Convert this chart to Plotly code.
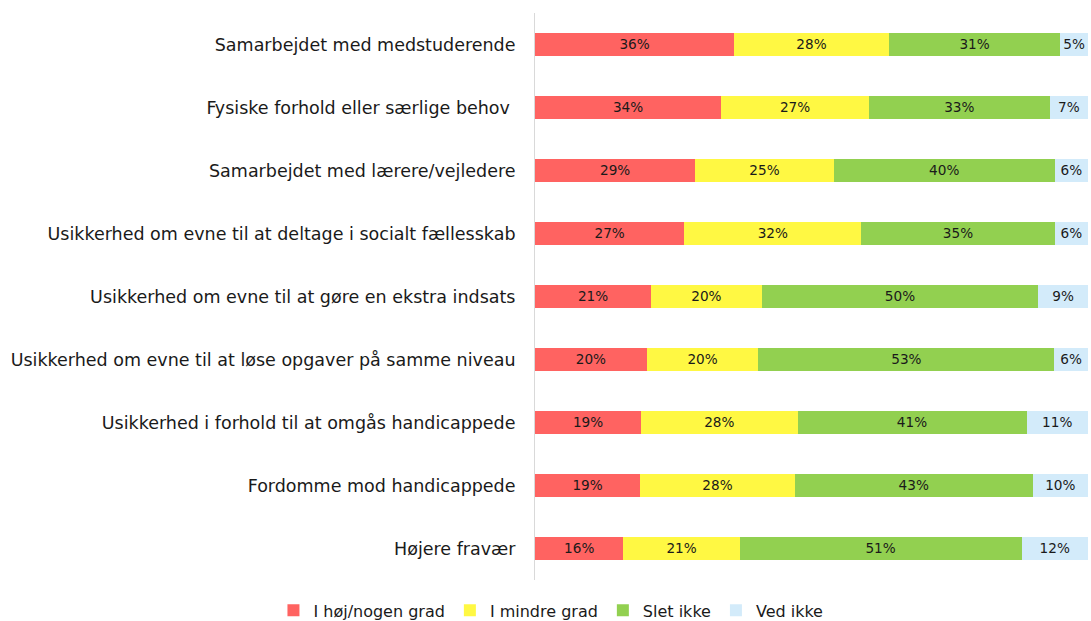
import plotly.graph_objects as go

categories = [
    "Samarbejdet med medstuderende",
    "Fysiske forhold eller særlige behov ",
    "Samarbejdet med lærere/vejledere",
    "Usikkerhed om evne til at deltage i socialt fællesskab",
    "Usikkerhed om evne til at gøre en ekstra indsats",
    "Usikkerhed om evne til at løse opgaver på samme niveau",
    "Usikkerhed i forhold til at omgås handicappede",
    "Fordomme mod handicappede",
    "Højere fravær",
]
hoj = [36, 34, 29, 27, 21, 20, 19, 19, 16]
mindre = [28, 27, 25, 32, 20, 20, 28, 28, 21]
slet = [31, 33, 40, 35, 50, 53, 41, 43, 51]
ved = [5, 7, 6, 6, 9, 6, 11, 10, 12]

series = [
    ("I høj/nogen grad", hoj, "#FF6361"),
    ("I mindre grad", mindre, "#FFF843"),
    ("Slet ikke", slet, "#92D050"),
    ("Ved ikke", ved, "#D3EBFA"),
]

FONT = "DejaVu Sans"
TXT = "#1a1a1a"
fig = go.Figure()
for name, vals, col in series:
    fig.add_trace(go.Bar(
        y=categories, x=vals, name=name, orientation="h",
        marker=dict(color=col, line=dict(width=0)),
        text=[f"{v}%" for v in vals], textposition="inside",
        insidetextanchor="middle", textangle=0,
        textfont=dict(family=FONT, size=17, color=TXT),
        cliponaxis=False,
    ))

fig.update_layout(
    barmode="stack", barnorm="percent", bargap=0.65,
    width=1091, height=621,
    margin=dict(l=535, r=3, t=13, b=41),
    paper_bgcolor="white", plot_bgcolor="white",
    font=dict(family=FONT, size=17, color=TXT),
    showlegend=True,
    legend=dict(orientation="h", xref="container", yref="container",
                x=0.505, xanchor="center", y=0.017, yanchor="middle",
                font=dict(family=FONT, size=16, color=TXT),
                traceorder="normal", itemwidth=30),
    uniformtext=dict(minsize=8, mode="show"),
)
fig.update_xaxes(range=[0, 100.01], visible=False, fixedrange=True)
fig.update_yaxes(autorange="reversed", showline=True, linecolor="#D9D9D9",
                 linewidth=1, ticks="", showgrid=False,
                 ticklabelstandoff=15, fixedrange=True,
                 tickfont=dict(family=FONT, size=17.5, color=TXT))

fig.write_html("out.html", config={"displayModeBar": False},
               post_script="document.body.style.margin='0';")
